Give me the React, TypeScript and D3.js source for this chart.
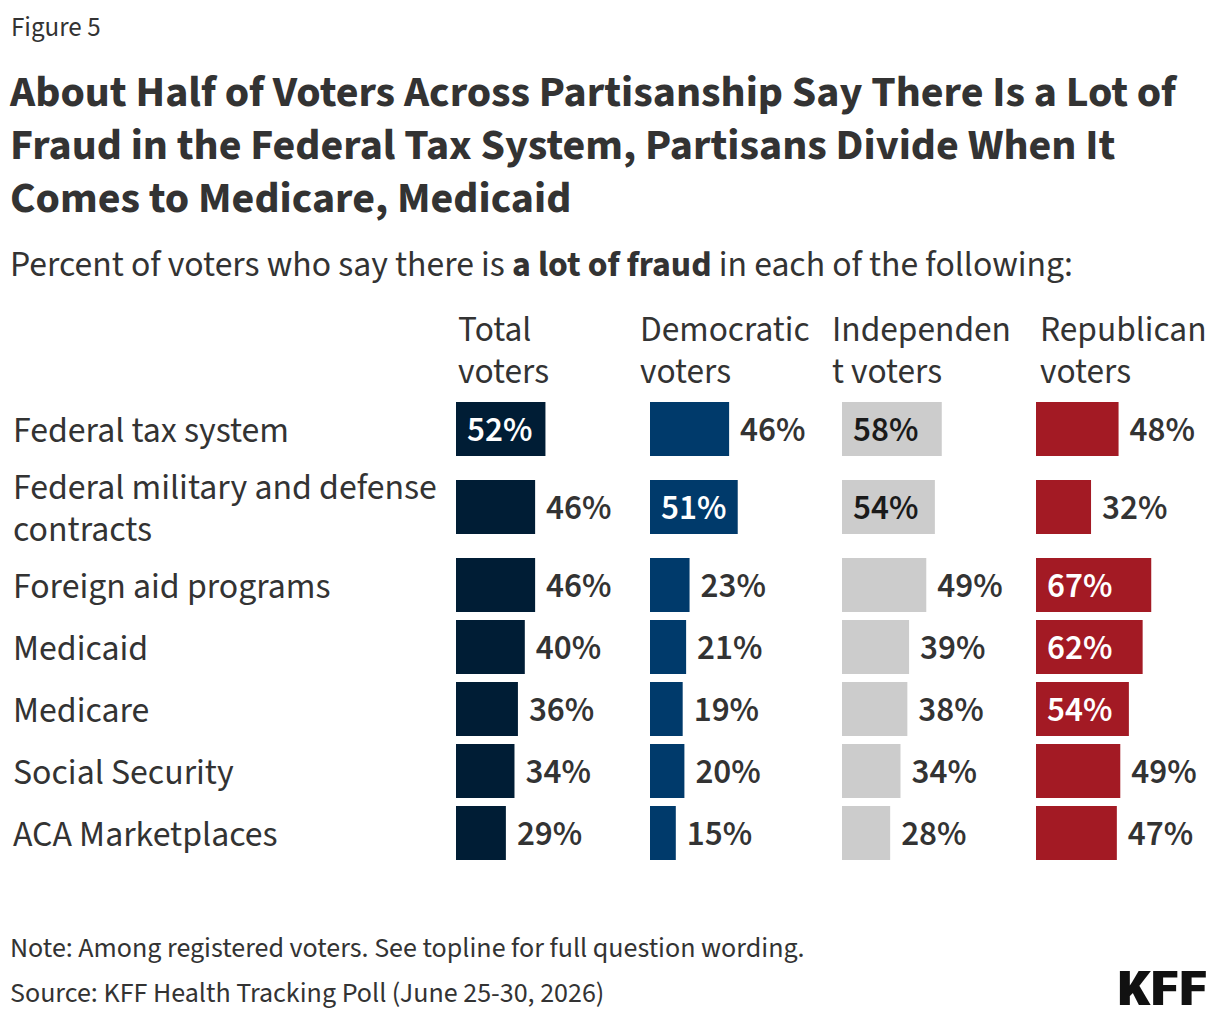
import React from "react";
import * as d3 from "d3";

const categories = [
  ["Federal tax system"],
  ["Federal military and defense", "contracts"],
  ["Foreign aid programs"],
  ["Medicaid"],
  ["Medicare"],
  ["Social Security"],
  ["ACA Marketplaces"],
];

const groupHeaders = [
  ["Total", "voters"],
  ["Democratic", "voters"],
  ["Independen", "t voters"],
  ["Republican", "voters"],
];

const totalVoters = [52, 46, 46, 40, 36, 34, 29];
const democraticVoters = [46, 51, 23, 21, 19, 20, 15];
const independentVoters = [58, 54, 49, 39, 38, 34, 28];
const republicanVoters = [48, 32, 67, 62, 54, 49, 47];

const groupValues = [totalVoters, democraticVoters, independentVoters, republicanVoters];
const groupColors = ["#001d35", "#003a6b", "#cccccc", "#a31a24"];
const insideTextColors = ["#ffffff", "#ffffff", "#1a1a1a", "#ffffff"];

const FONT = "'Source Sans Pro', 'Source Sans 3', Lato, 'Noto Sans', sans-serif";
const TEXT = "#333333";

export default function App() {
  const width = 1220;
  const height = 1020;

  const colStarts = [456, 650, 842, 1036];
  const headerStarts = [458, 640, 832, 1040];
  const x = d3.scaleLinear().domain([0, 100]).range([0, 172]);

  const barH = 54;
  const lineH = 42;
  // single-line rows take 62px, two-line rows take 94px
  const rowHeights = categories.map((c) => (c.length > 1 ? 94 : 62));
  const rowCenters: number[] = [];
  let acc = 429 - rowHeights[0] / 2;
  rowHeights.forEach((h) => {
    rowCenters.push(acc + h / 2);
    acc += h;
  });

  return (
    <svg width={width} height={height} style={{ display: "block", margin: "-8px", background: "#fff" }} fontFamily={FONT}>
      <rect width={width} height={height} fill="#fff" />
      <text x={11} y={36} fontSize={27} fill={TEXT}>Figure 5</text>
      {[
        "About Half of Voters Across Partisanship Say There Is a Lot of",
        "Fraud in the Federal Tax System, Partisans Divide When It",
        "Comes to Medicare, Medicaid",
      ].map((t, i) => (
        <text key={i} x={10} y={106 + i * 53} fontSize={44} fontWeight={700} fill={TEXT}>
          {t}
        </text>
      ))}
      <text x={10} y={276} fontSize={35.7} fill={TEXT}>
        Percent of voters who say there is <tspan fontWeight={700}>a lot of fraud</tspan> in each of the following:
      </text>

      {groupHeaders.map((lines, g) =>
        lines.map((l, j) => (
          <text key={`h${g}-${j}`} x={headerStarts[g]} y={341 + j * lineH} fontSize={35.4} fill={TEXT}>
            {l}
          </text>
        ))
      )}

      {categories.map((lines, i) => {
        const c = rowCenters[i];
        const top = c - ((lines.length - 1) * lineH) / 2;
        return (
          <g key={`r${i}`}>
            {lines.map((l, j) => (
              <text key={j} x={13} y={top + j * lineH} dy="0.35em" fontSize={35.8} fill={TEXT}>
                {l}
              </text>
            ))}
          </g>
        );
      })}

      {groupValues.map((vals, g) =>
        vals.map((v, i) => {
          const c = rowCenters[i];
          const w = x(v);
          const inside = v > 50;
          return (
            <g key={`b${g}-${i}`}>
              <rect x={colStarts[g]} y={c - barH / 2} width={w} height={barH} fill={groupColors[g]} />
              <text
                x={inside ? colStarts[g] + 11 : colStarts[g] + w + 11}
                y={c}
                dy="0.35em"
                fontSize={35}
                fontWeight={600}
                fill={inside ? insideTextColors[g] : TEXT}
              >
                {`${v}%`}
              </text>
            </g>
          );
        })
      )}

      <text x={10} y={957} fontSize={28} fill={TEXT}>
        Note: Among registered voters. See topline for full question wording.
      </text>
      <text x={10} y={1002} fontSize={28} fill={TEXT}>
        Source: KFF Health Tracking Poll (June 25-30, 2026)
      </text>
      <text
        x={1117}
        y={1005}
        fontSize={48}
        fontWeight={900}
        fill="#111"
        fontFamily="'Liberation Sans Narrow', 'Roboto Condensed', Roboto, sans-serif"
        textLength={90}
        lengthAdjust="spacingAndGlyphs"
      >
        KFF
      </text>
    </svg>
  );
}
